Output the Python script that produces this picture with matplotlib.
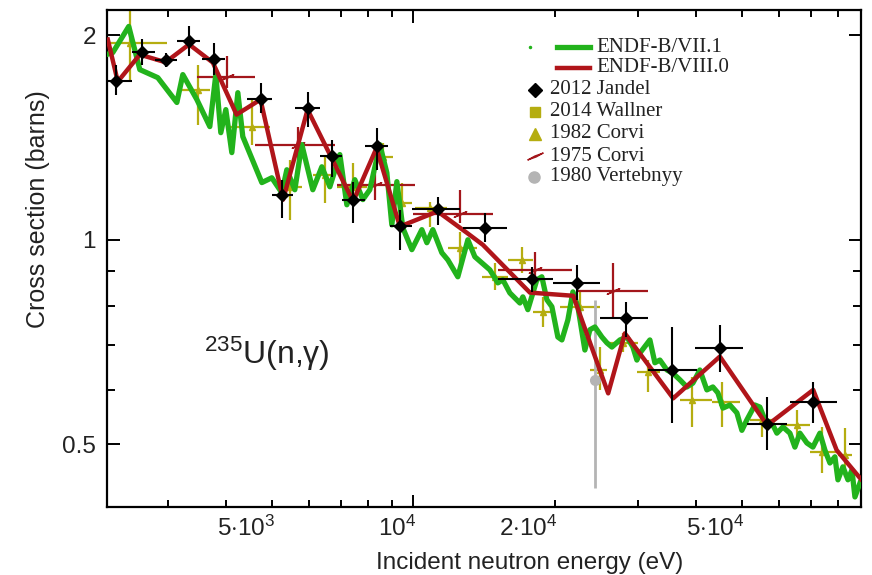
import matplotlib
matplotlib.use("Agg")
import matplotlib.pyplot as plt
from matplotlib.lines import Line2D
from matplotlib.path import Path
from matplotlib.ticker import FixedLocator, FixedFormatter
from matplotlib.transforms import ScaledTranslation

plt.rcParams['font.family'] = ['Liberation Sans', 'DejaVu Sans']
plt.rcParams['mathtext.fontset'] = 'custom'
plt.rcParams['mathtext.rm'] = 'Liberation Sans'
plt.rcParams['mathtext.it'] = 'Liberation Sans:italic'

# ENDF-B/VII.1 evaluation (green)
vii_e = [2228, 2294, 2481, 2619, 2860, 3140, 3233, 3463, 3690, 3800, 3894, 3991, 4110, 4233, 4337,
         4761, 4999, 5250, 5381, 5596, 5791, 6111, 6388, 6643, 6977, 7220, 7508, 7809, 8080, 8487,
         8783, 9000, 9224, 9499, 9927, 10425, 10684, 11002, 11497, 11842, 12434, 13062, 13516,
         14547, 15127, 15502, 16043, 16852, 17100, 17522, 18313, 18766, 19231, 19711, 20297,
         20701, 21317, 21848, 22387, 23168, 23742, 24337, 25186, 25808, 26446, 27507, 28467,
         29310, 29890, 30335, 31857, 32645, 33457, 34625, 35654, 36897, 38184, 39322, 40694,
         42115, 43367, 44447, 45545, 47134, 48780, 49990, 51236, 53280, 54600, 55960, 57912,
         59342, 61118, 63250, 64812, 66420, 68740, 70795, 73264, 75080, 76950, 78850, 80030,
         82000, 84050, 85700, 86980, 89125]
vii_xs = [1.875, 1.887, 2.062, 1.781, 1.733, 1.593, 1.751, 1.609, 1.468, 1.751, 1.438, 1.555, 1.344,
          1.647, 1.419, 1.214, 1.234, 1.173, 1.268, 1.185, 1.381, 1.185, 1.281, 1.197, 1.335,
          1.126, 1.226, 1.146, 1.185, 1.381, 1.255, 1.052, 1.218, 1.041, 0.967, 1.035, 0.990,
          1.035, 0.957, 0.934, 0.882, 1.000, 0.944, 0.903, 0.864, 0.873, 0.835, 0.807, 0.824,
          0.789, 0.873, 0.882, 0.816, 0.797, 0.719, 0.712, 0.762, 0.838, 0.797, 0.688, 0.737,
          0.744, 0.719, 0.705, 0.695, 0.712, 0.719, 0.695, 0.665, 0.681, 0.712, 0.659, 0.665,
          0.643, 0.636, 0.622, 0.607, 0.615, 0.643, 0.601, 0.607, 0.595, 0.565, 0.571, 0.556,
          0.524, 0.543, 0.571, 0.567, 0.543, 0.537, 0.519, 0.530, 0.519, 0.495, 0.519, 0.502,
          0.495, 0.519, 0.490, 0.469, 0.479, 0.443, 0.463, 0.443, 0.458, 0.418, 0.438]

# ENDF-B/VIII.0 evaluation (red)
viii_e = [2239, 2351, 2619, 2970, 3334, 3745, 4206, 4730, 5284, 5956, 7446, 8349, 9361, 11260,
          12995, 14058, 17697, 21880, 25970, 28180, 35710, 44880, 56590, 70900, 79520, 89570]
viii_xs = [1.972, 1.710, 1.874, 1.826, 1.940, 1.824, 1.529, 1.609, 1.146, 1.555, 1.139, 1.365,
           1.046, 1.101, 1.024, 0.983, 0.836, 0.827, 0.594, 0.728, 0.584, 0.673, 0.533, 0.601,
           0.490, 0.444]

# 2012 Jandel
jan_e = [2336, 2653, 2970, 3334, 3769, 4730, 5268, 5956, 6698, 7446, 8349, 9361, 11260, 14195,
         17846, 22330, 28280, 35530, 44960, 56590, 70900]
jan_elo = [2228, 2518, 2818, 3140, 3548, 4423, 4999, 5596, 6326, 7045, 7885, 8913, 9927, 12743,
           15130, 19810, 24930, 31540, 39720, 51230, 63250]
jan_ehi = [2518, 2818, 3140, 3513, 3971, 4999, 5540, 6326, 7045, 7885, 8826, 9927, 12560, 15810,
           19810, 24930, 31540, 40110, 50240, 62330, 79640]
jan_xs = [1.716, 1.889, 1.843, 1.961, 1.847, 1.612, 1.165, 1.564, 1.327, 1.146, 1.376, 1.049,
          1.110, 1.041, 0.875, 0.864, 0.766, 0.643, 0.693, 0.535, 0.577]
jan_lo = [1.636, 1.812, 1.794, 1.862, 1.751, 1.539, 1.077, 1.468, 1.239, 1.060, 1.268, 0.967,
          1.052, 0.993, 0.838, 0.816, 0.719, 0.537, 0.639, 0.490, 0.537]
jan_hi = [1.812, 1.979, 1.887, 2.062, 1.952, 1.704, 1.226, 1.653, 1.404, 1.218, 1.463, 1.107,
          1.157, 1.096, 0.912, 0.919, 0.810, 0.744, 0.749, 0.587, 0.617]

# 1982 Corvi
c82_e = [2494, 3479, 4533, 5462, 6481, 7435, 8612, 9452, 10842, 12560, 14905, 17017, 18857,
         22610, 24930, 27910, 31540, 39130, 45330, 55140, 65460, 73980, 82820]
c82_elo = [2261, 3217, 4011, 5124, 6111, 6874, 8200, 9000, 10074, 11842, 13987, 15890, 17961,
           20500, 23742, 25808, 29890, 36897, 43160, 52000, 61720, 69760, 80030]
c82_ehi = [2989, 3690, 4951, 5791, 6808, 7963, 9045, 9927, 11783, 13650, 15890, 17961, 19810,
           24930, 25808, 30040, 33457, 43160, 49510, 58760, 69760, 79640, 85700]
c82_xs = [1.952, 1.664, 1.468, 1.197, 1.247, 1.197, 1.326, 1.134, 1.115, 0.973, 0.882, 0.934,
          0.783, 0.797, 0.643, 0.705, 0.639, 0.581, 0.577, 0.543, 0.533, 0.487, 0.482]
c82_lo = [1.710, 1.478, 1.381, 1.070, 1.134, 1.134, 1.268, 1.045, 1.045, 0.919, 0.844, 0.894,
          0.744, 0.762, 0.601, 0.684, 0.597, 0.530, 0.530, 0.512, 0.507, 0.453, 0.447]
c82_hi = [2.184, 1.812, 1.609, 1.312, 1.326, 1.299, 1.390, 1.214, 1.138, 1.027, 0.925, 0.977,
          0.824, 0.838, 0.695, 0.729, 0.665, 0.628, 0.617, 0.561, 0.561, 0.530, 0.528]

# 1975 Corvi
c75_e = [4011, 5679, 8282, 12560, 18136, 26580]
c75_elo = [3463, 4600, 6874, 9975, 15127, 22280]
c75_ehi = [4600, 6808, 10074, 14762, 21740, 31540]
c75_xs = [1.739, 1.381, 1.205, 1.092, 0.903, 0.841]
c75_lo = [1.676, 1.312, 1.146, 1.060, 0.873, 0.770]
c75_hi = [1.862, 1.468, 1.260, 1.185, 0.960, 0.925]

# 1980 Vertebnyy
v80_e = [24300]
v80_xs = [0.622]
v80_lo = [0.431]
v80_hi = [0.816]

green = '#22b31c'
red = '#b0151a'
olive = '#b5ad10'
dred = '#a3161b'
gray = '#b4b4b4'
ink = '#222222'


def errs(c, lo, hi):
    return [[a - b for a, b in zip(c, lo)], [b - a for a, b in zip(c, hi)]]


slant = Path([(-1, -0.45), (-0.1, 0.05), (1, 0.45), (0.1, -0.05), (-1, -0.45)],
             [Path.MOVETO, Path.LINETO, Path.LINETO, Path.LINETO, Path.CLOSEPOLY])

fig = plt.figure(figsize=(8.72, 5.75), dpi=100)
ax = fig.add_axes([107 / 872, 1 - 507 / 575, 754 / 872, 497 / 575])
ax.set_xscale('log')
ax.set_yscale('log')

ax.errorbar(c82_e, c82_xs, xerr=errs(c82_e, c82_elo, c82_ehi), yerr=errs(c82_xs, c82_lo, c82_hi),
            fmt='^', color=olive, ms=4, elinewidth=1.6, capsize=0, zorder=1)
ax.errorbar(c75_e, c75_xs, xerr=errs(c75_e, c75_elo, c75_ehi), yerr=errs(c75_xs, c75_lo, c75_hi),
            fmt='none', ecolor=dred, elinewidth=1.6, capsize=0, zorder=1.5)
ax.plot(c75_e, c75_xs, ls='none', marker=slant, ms=9, color=dred, zorder=1.6)
ax.errorbar(v80_e, v80_xs, yerr=errs(v80_xs, v80_lo, v80_hi),
            fmt='o', color=gray, ms=7, elinewidth=2, capsize=0, zorder=2)
ax.plot(vii_e, vii_xs, color=green, lw=3.8, zorder=3)
ax.plot(viii_e, viii_xs, color=red, lw=3.2, zorder=4)
ax.errorbar(jan_e, jan_xs, xerr=errs(jan_e, jan_elo, jan_ehi), yerr=errs(jan_xs, jan_lo, jan_hi),
            fmt='D', color='black', ms=6, elinewidth=1.5, capsize=0, zorder=5)

ax.set_xlim(2230, 89600)
ax.set_ylim(0.404, 2.18)

ax.xaxis.set_major_locator(FixedLocator([1e4]))
ax.xaxis.set_major_formatter(FixedFormatter([r'$10^4$']))
xminor = [3e3, 4e3, 5e3, 6e3, 7e3, 8e3, 9e3, 2e4, 3e4, 4e4, 5e4, 6e4, 7e4, 8e4]
xminor_lab = ['', '', r'$5{\cdot}10^3$', '', '', '', '', r'$2{\cdot}10^4$', '', '',
              r'$5{\cdot}10^4$', '', '', '']
ax.xaxis.set_minor_locator(FixedLocator(xminor))
ax.xaxis.set_minor_formatter(FixedFormatter(xminor_lab))
ax.yaxis.set_major_locator(FixedLocator([0.5, 1, 2]))
ax.yaxis.set_major_formatter(FixedFormatter(['0.5', '1', '2']))
ax.yaxis.set_minor_locator(FixedLocator([0.6, 0.7, 0.8, 0.9]))
ax.yaxis.set_minor_formatter(FixedFormatter(['', '', '', '']))

ax.tick_params(which='both', direction='in', top=True, right=True, labelsize=17.5, width=1.4,
               color='black', labelcolor=ink)
ax.tick_params(axis='x', which='major', length=9, pad=6)
ax.tick_params(axis='x', which='minor', length=5, pad=6)
ax.tick_params(axis='y', which='major', length=9, pad=8)
ax.tick_params(axis='y', which='minor', length=6)
for s in ax.spines.values():
    s.set_linewidth(1.6)

# the x tick labels end just right of their ticks in the original
shift = ScaledTranslation(0.03, 0, fig.dpi_scale_trans)
for lab in ax.get_xticklabels() + ax.get_xticklabels(minor=True):
    lab.set_horizontalalignment('right')
    lab.set_transform(lab.get_transform() + shift)

ax.set_xlabel('Incident neutron energy (eV)', fontsize=17.5, color=ink)
ax.xaxis.set_label_coords(0.561, -0.09)
ax.set_ylabel('Cross section (barns)', fontsize=18, color=ink)
ax.yaxis.set_label_coords(-0.075, 0.6)

fig.text(204 / 872, 1 - 364 / 575, r'$^{235}$U(n,γ)', fontsize=23, color=ink, va='baseline')

# legend, drawn by hand to keep the indented line entries
ser = ['Liberation Serif', 'DejaVu Serif']
rows = [47, 68, 90, 112, 134, 156, 177]
labels = ['ENDF-B/VII.1', 'ENDF-B/VIII.0', '2012 Jandel', '2014 Wallner', '1982 Corvi',
          '1975 Corvi', '1980 Vertebnyy']
for i, (r, lab) in enumerate(zip(rows, labels)):
    xt = 596 if i < 2 else 550
    fig.text(xt / 872, 1 - r / 575, lab, family=ser, fontsize=15, color=ink, va='center')
fig.add_artist(Line2D([530 / 872], [1 - 47 / 575], marker='o', ms=1.5, color=green, ls='none'))
fig.add_artist(Line2D([557 / 872, 590 / 872], [1 - 47 / 575] * 2, color=green, lw=3.8))
fig.add_artist(Line2D([557 / 872, 590 / 872], [1 - 68 / 575] * 2, color=red, lw=3.2))
fig.add_artist(Line2D([535 / 872], [1 - 90 / 575], marker='D', ms=7, color='black', ls='none'))
fig.add_artist(Line2D([535 / 872], [1 - 112 / 575], marker='s', ms=7, color=olive, ls='none'))
fig.add_artist(Line2D([535 / 872], [1 - 134 / 575], marker='^', ms=8, color=olive, ls='none'))
fig.add_artist(Line2D([535 / 872], [1 - 156 / 575], marker=slant, ms=11, color=dred, ls='none'))
fig.add_artist(Line2D([534 / 872], [1 - 177 / 575], marker='o', ms=8, color=gray, ls='none'))

fig.savefig('out.png', dpi=100)
